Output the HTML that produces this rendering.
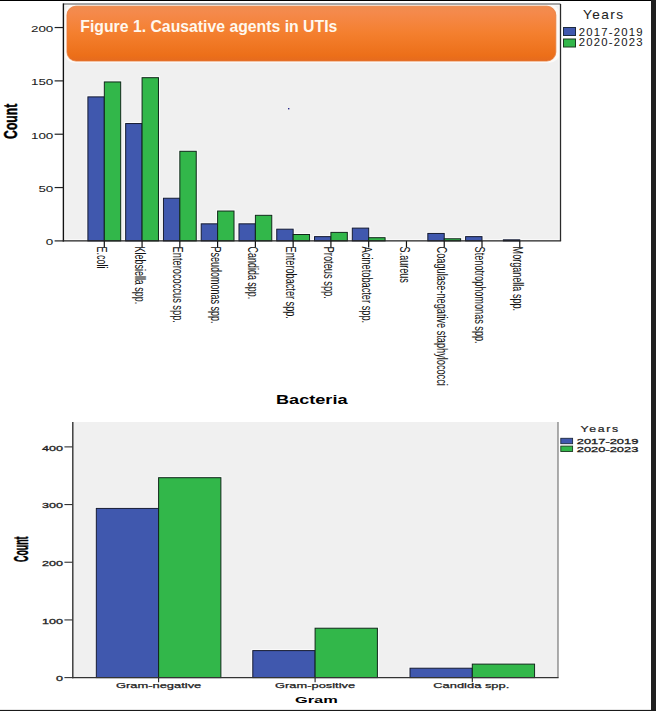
<!DOCTYPE html>
<html><head><meta charset="utf-8"><style>
html,body{margin:0;padding:0;background:#fff;}
body{width:656px;height:711px;overflow:hidden;}
svg{display:block;font-family:"Liberation Sans", sans-serif;}
</style></head><body>
<svg width="656" height="711" viewBox="0 0 656 711">
<rect x="0" y="0" width="656" height="711" fill="#fff"/>
<rect x="63.4" y="4.0" width="497.1" height="236.9" fill="#f0f0f0"/>
<rect x="64.4" y="5.0" width="495.1" height="234.9" fill="none" stroke="#fafafa" stroke-width="1.6"/>
<defs><linearGradient id="og" x1="0" y1="0" x2="0" y2="1"><stop offset="0" stop-color="#f08d50"/><stop offset="0.12" stop-color="#f5894b"/><stop offset="0.5" stop-color="#f47f2e"/><stop offset="0.9" stop-color="#ec6f19"/><stop offset="1" stop-color="#e56a1f"/></linearGradient></defs>
<rect x="64.2" y="4.6" width="495.4" height="58.2" rx="10" fill="#fcfaf8"/>
<rect x="66.2" y="5.4" width="490.4" height="56.4" rx="9.5" fill="#fde9da"/>
<rect x="67" y="6.2" width="488.8" height="54.8" rx="9" fill="url(#og)" stroke="#e4793a" stroke-width="0.7"/>
<text x="80.3" y="32.3" font-size="16.6" font-weight="bold" fill="#fff8ee" text-anchor="start" textLength="257" lengthAdjust="spacingAndGlyphs">Figure 1. Causative agents in UTIs</text>
<rect x="86.40" y="95.38" width="19.4" height="145.52" fill="#fbfbfb"/>
<rect x="102.80" y="80.45" width="19.4" height="160.45" fill="#fbfbfb"/>
<rect x="124.17" y="122.05" width="19.4" height="118.85" fill="#fbfbfb"/>
<rect x="140.57" y="76.18" width="19.4" height="164.72" fill="#fbfbfb"/>
<rect x="161.94" y="196.73" width="19.4" height="44.17" fill="#fbfbfb"/>
<rect x="178.34" y="149.79" width="19.4" height="91.11" fill="#fbfbfb"/>
<rect x="199.71" y="222.33" width="19.4" height="18.57" fill="#fbfbfb"/>
<rect x="216.11" y="209.53" width="19.4" height="31.37" fill="#fbfbfb"/>
<rect x="237.48" y="222.33" width="19.4" height="18.57" fill="#fbfbfb"/>
<rect x="253.88" y="213.80" width="19.4" height="27.10" fill="#fbfbfb"/>
<rect x="275.25" y="227.67" width="19.4" height="13.23" fill="#fbfbfb"/>
<rect x="291.65" y="233.00" width="19.4" height="7.90" fill="#fbfbfb"/>
<rect x="313.02" y="235.13" width="19.4" height="5.77" fill="#fbfbfb"/>
<rect x="329.42" y="230.87" width="19.4" height="10.03" fill="#fbfbfb"/>
<rect x="350.79" y="226.60" width="19.4" height="14.30" fill="#fbfbfb"/>
<rect x="367.19" y="236.20" width="19.4" height="4.70" fill="#fbfbfb"/>
<rect x="426.33" y="231.93" width="19.4" height="8.97" fill="#fbfbfb"/>
<rect x="442.73" y="237.27" width="19.4" height="3.63" fill="#fbfbfb"/>
<rect x="464.10" y="235.13" width="19.4" height="5.77" fill="#fbfbfb"/>
<rect x="501.87" y="238.33" width="19.4" height="2.57" fill="#fbfbfb"/>
<rect x="87.90" y="96.88" width="16.4" height="144.02" fill="#4058ae" stroke="#141a30" stroke-width="1"/>
<rect x="104.30" y="81.95" width="16.4" height="158.95" fill="#32b74a" stroke="#10261a" stroke-width="1"/>
<line x1="104.30" y1="240.9" x2="104.30" y2="247.4" stroke="#111" stroke-width="1.2"/>
<text transform="translate(97.4,246.6) rotate(90)" font-size="14.5" fill="#111" text-anchor="start" textLength="22.0" lengthAdjust="spacingAndGlyphs">E.coli</text>
<rect x="125.67" y="123.55" width="16.4" height="117.35" fill="#4058ae" stroke="#141a30" stroke-width="1"/>
<rect x="142.07" y="77.68" width="16.4" height="163.22" fill="#32b74a" stroke="#10261a" stroke-width="1"/>
<line x1="142.07" y1="240.9" x2="142.07" y2="247.4" stroke="#111" stroke-width="1.2"/>
<text transform="translate(135.17,246.6) rotate(90)" font-size="14.5" fill="#111" text-anchor="start" textLength="57.6" lengthAdjust="spacingAndGlyphs">Klebsiella spp.</text>
<rect x="163.44" y="198.23" width="16.4" height="42.67" fill="#4058ae" stroke="#141a30" stroke-width="1"/>
<rect x="179.84" y="151.29" width="16.4" height="89.61" fill="#32b74a" stroke="#10261a" stroke-width="1"/>
<line x1="179.84" y1="240.9" x2="179.84" y2="247.4" stroke="#111" stroke-width="1.2"/>
<text transform="translate(172.94,246.6) rotate(90)" font-size="14.5" fill="#111" text-anchor="start" textLength="76.3" lengthAdjust="spacingAndGlyphs">Enterococcus spp.</text>
<rect x="201.21" y="223.83" width="16.4" height="17.07" fill="#4058ae" stroke="#141a30" stroke-width="1"/>
<rect x="217.61" y="211.03" width="16.4" height="29.87" fill="#32b74a" stroke="#10261a" stroke-width="1"/>
<line x1="217.61" y1="240.9" x2="217.61" y2="247.4" stroke="#111" stroke-width="1.2"/>
<text transform="translate(210.71,246.6) rotate(90)" font-size="14.5" fill="#111" text-anchor="start" textLength="77.0" lengthAdjust="spacingAndGlyphs">Pseudomonas spp.</text>
<rect x="238.98" y="223.83" width="16.4" height="17.07" fill="#4058ae" stroke="#141a30" stroke-width="1"/>
<rect x="255.38" y="215.30" width="16.4" height="25.60" fill="#32b74a" stroke="#10261a" stroke-width="1"/>
<line x1="255.38" y1="240.9" x2="255.38" y2="247.4" stroke="#111" stroke-width="1.2"/>
<text transform="translate(248.48,246.6) rotate(90)" font-size="14.5" fill="#111" text-anchor="start" textLength="52.6" lengthAdjust="spacingAndGlyphs">Candida spp.</text>
<rect x="276.75" y="229.17" width="16.4" height="11.73" fill="#4058ae" stroke="#141a30" stroke-width="1"/>
<rect x="293.15" y="234.50" width="16.4" height="6.40" fill="#32b74a" stroke="#10261a" stroke-width="1"/>
<line x1="293.15" y1="240.9" x2="293.15" y2="247.4" stroke="#111" stroke-width="1.2"/>
<text transform="translate(286.25,246.6) rotate(90)" font-size="14.5" fill="#111" text-anchor="start" textLength="72.3" lengthAdjust="spacingAndGlyphs">Enterobacter spp.</text>
<rect x="314.52" y="236.63" width="16.4" height="4.27" fill="#4058ae" stroke="#141a30" stroke-width="1"/>
<rect x="330.92" y="232.37" width="16.4" height="8.53" fill="#32b74a" stroke="#10261a" stroke-width="1"/>
<line x1="330.92" y1="240.9" x2="330.92" y2="247.4" stroke="#111" stroke-width="1.2"/>
<text transform="translate(324.02,246.6) rotate(90)" font-size="14.5" fill="#111" text-anchor="start" textLength="52.3" lengthAdjust="spacingAndGlyphs">Proteus spp.</text>
<rect x="352.29" y="228.10" width="16.4" height="12.80" fill="#4058ae" stroke="#141a30" stroke-width="1"/>
<rect x="368.69" y="237.70" width="16.4" height="3.20" fill="#32b74a" stroke="#10261a" stroke-width="1"/>
<line x1="368.69" y1="240.9" x2="368.69" y2="247.4" stroke="#111" stroke-width="1.2"/>
<text transform="translate(361.79,246.6) rotate(90)" font-size="14.5" fill="#111" text-anchor="start" textLength="76.5" lengthAdjust="spacingAndGlyphs">Acinetobacter spp.</text>
<line x1="406.46" y1="240.9" x2="406.46" y2="247.4" stroke="#111" stroke-width="1.2"/>
<text transform="translate(399.56,246.6) rotate(90)" font-size="14.5" fill="#111" text-anchor="start" textLength="36.2" lengthAdjust="spacingAndGlyphs">S.aureus</text>
<rect x="427.83" y="233.43" width="16.4" height="7.47" fill="#4058ae" stroke="#141a30" stroke-width="1"/>
<rect x="444.23" y="238.77" width="16.4" height="2.13" fill="#32b74a" stroke="#10261a" stroke-width="1"/>
<line x1="444.23" y1="240.9" x2="444.23" y2="247.4" stroke="#111" stroke-width="1.2"/>
<text transform="translate(437.33,246.6) rotate(90)" font-size="14.5" fill="#111" text-anchor="start" textLength="139.2" lengthAdjust="spacingAndGlyphs">Coagulase-negative staphylococci</text>
<rect x="465.60" y="236.63" width="16.4" height="4.27" fill="#4058ae" stroke="#141a30" stroke-width="1"/>
<line x1="482.00" y1="240.9" x2="482.00" y2="247.4" stroke="#111" stroke-width="1.2"/>
<text transform="translate(475.1,246.6) rotate(90)" font-size="14.5" fill="#111" text-anchor="start" textLength="97.0" lengthAdjust="spacingAndGlyphs">Stenotrophomonas spp.</text>
<rect x="503.37" y="239.83" width="16.4" height="1.07" fill="#4058ae" stroke="#141a30" stroke-width="1"/>
<line x1="519.77" y1="240.9" x2="519.77" y2="247.4" stroke="#111" stroke-width="1.2"/>
<text transform="translate(512.87,246.6) rotate(90)" font-size="14.5" fill="#111" text-anchor="start" textLength="64.4" lengthAdjust="spacingAndGlyphs">Morganella spp.</text>
<line x1="63.4" y1="4.0" x2="560.5" y2="4.0" stroke="#505050" stroke-width="1.2"/>
<line x1="560.5" y1="4.0" x2="560.5" y2="240.9" stroke="#2a2a2a" stroke-width="1.3"/>
<line x1="63.4" y1="3.4" x2="63.4" y2="241.5" stroke="#111" stroke-width="1.4"/>
<line x1="62.8" y1="240.9" x2="561.1" y2="240.9" stroke="#222" stroke-width="1.4"/>
<line x1="54.6" y1="240.90" x2="63.4" y2="240.90" stroke="#222" stroke-width="1.2"/>
<text x="53.3" y="245.4" font-size="9.3" fill="#1a1a1a" text-anchor="end" textLength="7.45" lengthAdjust="spacingAndGlyphs" stroke="#1a1a1a" stroke-width="0.05">0</text>
<line x1="54.6" y1="187.56" x2="63.4" y2="187.56" stroke="#222" stroke-width="1.2"/>
<text x="53.3" y="192.06" font-size="9.3" fill="#1a1a1a" text-anchor="end" textLength="14.9" lengthAdjust="spacingAndGlyphs" stroke="#1a1a1a" stroke-width="0.05">50</text>
<line x1="54.6" y1="134.22" x2="63.4" y2="134.22" stroke="#222" stroke-width="1.2"/>
<text x="53.3" y="138.72" font-size="9.3" fill="#1a1a1a" text-anchor="end" textLength="22.35" lengthAdjust="spacingAndGlyphs" stroke="#1a1a1a" stroke-width="0.05">100</text>
<line x1="54.6" y1="80.88" x2="63.4" y2="80.88" stroke="#222" stroke-width="1.2"/>
<text x="53.3" y="85.38" font-size="9.3" fill="#1a1a1a" text-anchor="end" textLength="22.35" lengthAdjust="spacingAndGlyphs" stroke="#1a1a1a" stroke-width="0.05">150</text>
<line x1="54.6" y1="27.54" x2="63.4" y2="27.54" stroke="#222" stroke-width="1.2"/>
<text x="53.3" y="32.04" font-size="9.3" fill="#1a1a1a" text-anchor="end" textLength="22.35" lengthAdjust="spacingAndGlyphs" stroke="#1a1a1a" stroke-width="0.05">200</text>
<text transform="translate(16.9,138.9) rotate(-90)" font-size="18.9" font-weight="bold" fill="#000" text-anchor="start" textLength="35.1" lengthAdjust="spacingAndGlyphs" stroke="#000" stroke-width="0.5">Count</text>
<text x="276.0" y="403.8" font-size="12.2" font-weight="bold" fill="#000" text-anchor="start" textLength="71.5" lengthAdjust="spacingAndGlyphs">Bacteria</text>
<text transform="translate(583.0,19) scale(1.12,1)" font-size="12.2" letter-spacing="1.25" fill="#222" stroke="#222" stroke-width="0.05" text-anchor="start">Years</text>
<rect x="563.5" y="27.5" width="12" height="8" fill="#4058ae" stroke="#1c2a40" stroke-width="1"/>
<rect x="563.5" y="39" width="12" height="8" fill="#32b74a" stroke="#1c3a20" stroke-width="1"/>
<text transform="translate(578.8,36.1) scale(1.1,1)" font-size="10.3" letter-spacing="1.1" fill="#1a1a1a" stroke="#1a1a1a" stroke-width="0.05" text-anchor="start">2017-2019</text>
<text transform="translate(578.8,46.3) scale(1.1,1)" font-size="10.3" letter-spacing="1.1" fill="#1a1a1a" stroke="#1a1a1a" stroke-width="0.05" text-anchor="start">2020-2023</text>
<rect x="288" y="108" width="1.4" height="1.4" fill="#2a2a8a"/>
<rect x="72.8" y="422.0" width="485.2" height="255.60000000000002" fill="#f0f0f0"/>
<rect x="94.80" y="506.9" width="63.8" height="170.70" fill="#fbfbfb"/>
<rect x="158.60" y="476.2" width="63.8" height="201.40" fill="#fbfbfb"/>
<rect x="251.30" y="649.1" width="63.8" height="28.50" fill="#fbfbfb"/>
<rect x="315.10" y="626.7" width="63.8" height="50.90" fill="#fbfbfb"/>
<rect x="408.50" y="666.7" width="63.8" height="10.90" fill="#fbfbfb"/>
<rect x="472.30" y="662.6" width="63.8" height="15.00" fill="#fbfbfb"/>
<rect x="96.30" y="508.4" width="62.3" height="169.20" fill="#4058ae" stroke="#141a30" stroke-width="1"/>
<rect x="158.60" y="477.7" width="62.3" height="199.90" fill="#32b74a" stroke="#10261a" stroke-width="1"/>
<line x1="158.6" y1="677.6" x2="158.6" y2="682.2" stroke="#222" stroke-width="1.1"/>
<rect x="252.80" y="650.6" width="62.3" height="27.00" fill="#4058ae" stroke="#141a30" stroke-width="1"/>
<rect x="315.10" y="628.2" width="62.3" height="49.40" fill="#32b74a" stroke="#10261a" stroke-width="1"/>
<line x1="315.1" y1="677.6" x2="315.1" y2="682.2" stroke="#222" stroke-width="1.1"/>
<rect x="410.00" y="668.2" width="62.3" height="9.40" fill="#4058ae" stroke="#141a30" stroke-width="1"/>
<rect x="472.30" y="664.1" width="62.3" height="13.50" fill="#32b74a" stroke="#10261a" stroke-width="1"/>
<line x1="472.3" y1="677.6" x2="472.3" y2="682.2" stroke="#222" stroke-width="1.1"/>
<line x1="558.0" y1="422.0" x2="558.0" y2="677.6" stroke="#777" stroke-width="1.2"/>
<line x1="72.8" y1="422.0" x2="72.8" y2="678.2" stroke="#333" stroke-width="1.4"/>
<line x1="72.2" y1="677.6" x2="558.6" y2="677.6" stroke="#333" stroke-width="1.3"/>
<line x1="64.4" y1="677.60" x2="72.8" y2="677.60" stroke="#333" stroke-width="1.1"/>
<text x="63.0" y="681.3" font-size="8" fill="#222" text-anchor="end" textLength="7.0" lengthAdjust="spacingAndGlyphs" stroke="#222" stroke-width="0.3">0</text>
<line x1="64.4" y1="619.92" x2="72.8" y2="619.92" stroke="#333" stroke-width="1.1"/>
<text x="63.0" y="623.62" font-size="8" fill="#222" text-anchor="end" textLength="21.0" lengthAdjust="spacingAndGlyphs" stroke="#222" stroke-width="0.3">100</text>
<line x1="64.4" y1="562.24" x2="72.8" y2="562.24" stroke="#333" stroke-width="1.1"/>
<text x="63.0" y="565.94" font-size="8" fill="#222" text-anchor="end" textLength="21.0" lengthAdjust="spacingAndGlyphs" stroke="#222" stroke-width="0.3">200</text>
<line x1="64.4" y1="504.56" x2="72.8" y2="504.56" stroke="#333" stroke-width="1.1"/>
<text x="63.0" y="508.26" font-size="8" fill="#222" text-anchor="end" textLength="21.0" lengthAdjust="spacingAndGlyphs" stroke="#222" stroke-width="0.3">300</text>
<line x1="64.4" y1="446.88" x2="72.8" y2="446.88" stroke="#333" stroke-width="1.1"/>
<text x="63.0" y="450.58" font-size="8" fill="#222" text-anchor="end" textLength="21.0" lengthAdjust="spacingAndGlyphs" stroke="#222" stroke-width="0.3">400</text>
<text transform="translate(27.9,562.0) rotate(-90)" font-size="19.5" font-weight="bold" fill="#000" text-anchor="start" textLength="25.5" lengthAdjust="spacingAndGlyphs" stroke="#000" stroke-width="0.5">Count</text>
<text x="158.6" y="688.0" font-size="8" fill="#222" text-anchor="middle" textLength="85.4" lengthAdjust="spacingAndGlyphs" stroke="#222" stroke-width="0.25">Gram-negative</text>
<text x="315.1" y="688.0" font-size="8" fill="#222" text-anchor="middle" textLength="80" lengthAdjust="spacingAndGlyphs" stroke="#222" stroke-width="0.25">Gram-positive</text>
<text x="471.3" y="688.0" font-size="8" fill="#222" text-anchor="middle" textLength="76" lengthAdjust="spacingAndGlyphs" stroke="#222" stroke-width="0.25">Candida spp.</text>
<text x="295.0" y="703.0" font-size="8.9" font-weight="bold" fill="#000" text-anchor="start" textLength="42.8" lengthAdjust="spacingAndGlyphs">Gram</text>
<text x="580.6" y="432.3" font-size="8.8" letter-spacing="1.2" fill="#222" textLength="39.2" lengthAdjust="spacingAndGlyphs" stroke="#222" stroke-width="0.2">Years</text>
<rect x="560.8" y="438.3" width="11.8" height="5.4" fill="#4058ae" stroke="#1c2a40" stroke-width="0.9"/>
<rect x="560.8" y="446.1" width="11.8" height="5.4" fill="#32b74a" stroke="#1c3a20" stroke-width="0.9"/>
<text x="576.8" y="444.0" font-size="8.0" fill="#1a1a1a" text-anchor="start" textLength="61.5" lengthAdjust="spacingAndGlyphs" stroke="#1a1a1a" stroke-width="0.3">2017-2019</text>
<text x="576.8" y="451.6" font-size="8.0" fill="#1a1a1a" text-anchor="start" textLength="61.5" lengthAdjust="spacingAndGlyphs" stroke="#1a1a1a" stroke-width="0.3">2020-2023</text>
<rect x="0" y="0" width="652" height="1" fill="#000"/>
<rect x="651" y="0" width="5" height="711" fill="#202020"/>
<rect x="0" y="709.9" width="656" height="1.1" fill="#1a1a1a"/>
</svg>
</body></html>
